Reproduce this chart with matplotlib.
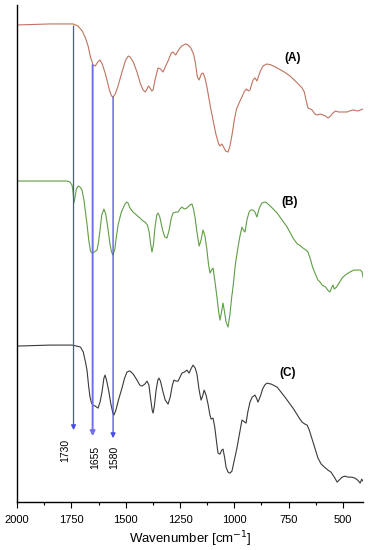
import numpy as np
import matplotlib.pyplot as plt

plt.rcParams['font.family'] = ['Liberation Sans', 'DejaVu Sans']

# spectrum (A)
wn_a = [2000, 1850, 1760, 1742, 1720, 1700, 1685, 1673, 1662, 1650, 1640, 1628, 1618, 1608,
        1596, 1586, 1575, 1565, 1558, 1548, 1535, 1517, 1500, 1488, 1480, 1465, 1448, 1432,
        1420, 1410, 1402, 1395, 1388, 1380, 1374, 1365, 1351, 1340, 1328, 1318, 1305, 1290,
        1282, 1270, 1262, 1250, 1241, 1225, 1213, 1200, 1188, 1180, 1170, 1162, 1152, 1144,
        1135, 1126, 1110, 1098, 1085, 1072, 1066, 1058, 1052, 1040, 1029, 1020, 1010, 1000,
        990, 974, 965, 955, 945, 935, 928, 914, 905, 896, 880, 868, 850, 830, 803, 770, 744,
        715, 688, 678, 668, 661, 650, 642, 630, 619, 605, 592, 580, 569, 557, 546, 535, 520,
        500, 481, 470, 454, 430, 408]
val_a = [477, 478, 478, 478, 476, 471, 464, 456, 445, 437, 436, 440, 442, 438,
         430, 422, 412, 406, 405, 408, 416, 430, 442, 446, 445, 440, 430, 418,
         412, 410, 413, 416, 414, 411, 412, 422, 434, 433, 430, 435, 441, 449,
         450, 447, 450, 454, 456, 458, 457, 454, 448, 440, 425, 422, 428, 429,
         424, 415, 395, 382, 368, 358, 356, 358, 356, 351, 350, 356, 368, 382,
         393, 401, 405, 410, 413, 411, 412, 422, 424, 421, 431, 436, 438, 437, 434, 430, 426,
         420, 414, 410, 400, 394, 393, 392, 388, 387, 388, 387, 386, 384, 386, 389, 391, 390,
         390, 390, 391, 392, 391, 393]

# spectrum (B)
wn_b = [2000, 1850, 1770, 1757, 1747, 1742, 1738, 1733, 1727, 1718, 1710, 1701, 1692, 1685,
        1678, 1670, 1662, 1655, 1645, 1632, 1625, 1618, 1610, 1600, 1592, 1586, 1581, 1572,
        1565, 1558, 1550, 1543, 1535, 1520, 1503, 1495, 1489, 1480, 1466, 1450, 1434, 1420,
        1411, 1400, 1392, 1385, 1379, 1372, 1365, 1357, 1351, 1343, 1330, 1320, 1310, 1300,
        1290, 1282, 1270, 1259, 1250, 1241, 1230, 1218, 1205, 1195, 1188, 1181, 1172, 1162,
        1153, 1144, 1135, 1126, 1119, 1112, 1105, 1098, 1090, 1080, 1072, 1066, 1059, 1052,
        1045, 1038, 1029, 1020, 1012, 1006, 995, 983, 975, 965, 958, 951, 942, 932, 925, 914,
        905, 896, 885, 873, 860, 850, 830, 803, 780, 757, 740, 730, 710, 700, 684, 670, 661,
        650, 640, 629, 615, 605, 596, 580, 570, 560, 553, 546, 540, 530, 515, 504, 490, 468,
        450, 431, 420, 412, 408]
val_b = [321, 321, 321, 320, 317, 310, 299, 305, 313, 316, 315, 312, 302, 290,
         278, 262, 251, 249, 250, 252, 260, 272, 287, 293, 288, 280, 272, 258,
         250, 247, 253, 265, 277, 290, 298, 300, 299, 294, 290, 287, 284, 281,
         280, 277, 270, 258, 250, 258, 275, 287, 289, 285, 272, 265, 264, 272,
         284, 289, 290, 290, 293, 295, 293, 294, 297, 298, 293, 285, 270, 256,
         262, 272, 266, 252, 238, 229, 232, 234, 222, 205, 190, 182, 190, 199,
         190, 180, 175, 188, 205, 215, 238, 255, 265, 275, 272, 270, 282, 290, 292, 292,
         290, 285, 294, 299, 300, 299, 295, 289, 282, 275, 268, 264, 258, 257, 254, 252, 250,
         243, 235, 229, 222, 220, 217, 215, 212, 210, 214, 217, 213, 215, 220, 224, 227, 230,
         232, 232, 232, 230, 225]

# spectrum (C)
wn_c = [2000, 1850, 1760, 1747, 1725, 1708, 1695, 1685, 1678, 1670, 1664, 1657, 1650, 1640,
        1627, 1618, 1609, 1600, 1595, 1588, 1577, 1568, 1560, 1554, 1545, 1532, 1517, 1505,
        1494, 1485, 1480, 1465, 1448, 1435, 1425, 1412, 1402, 1393, 1385, 1378, 1374, 1368,
        1360, 1352, 1347, 1340, 1328, 1318, 1305, 1295, 1285, 1278, 1268, 1259, 1248, 1241,
        1230, 1218, 1208, 1200, 1190, 1180, 1172, 1162, 1153, 1146, 1139, 1130, 1121, 1113,
        1107, 1098, 1090, 1080, 1075, 1066, 1058, 1052, 1045, 1038, 1029, 1020, 1011, 1000,
        988, 975, 965, 958, 946, 938, 928, 918, 905, 898, 891, 880, 870, 860, 850, 830, 803,
        785, 767, 750, 730, 710, 698, 688, 675, 665, 655, 642, 630, 615, 600, 585, 569, 555,
        546, 537, 527, 518, 504, 490, 477, 460, 445, 432, 421, 414, 408]
val_c = [156, 157, 157, 157, 156, 155, 150, 140, 132, 115, 105, 99, 97, 96,
         94, 100, 110, 124, 127, 122, 110, 98, 90, 87, 92, 103, 114, 124,
         130, 131, 131, 128, 122, 117, 116, 118, 121, 117, 103, 92, 89, 96,
         112, 122, 124, 121, 110, 102, 98, 105, 117, 122, 121, 121, 126, 129,
         130, 132, 129, 133, 137, 134, 128, 112, 102, 106, 112, 107, 98, 88,
         83, 84, 75, 57, 49, 48, 52, 53, 45, 35, 30, 29, 31, 42,
         54, 70, 82, 81, 79, 90, 100, 105, 107, 104, 100, 106, 113, 117, 119, 118, 115,
         110, 105, 100, 94, 87, 83, 80, 78, 77, 72, 63, 55, 44, 38, 35, 32, 30,
         27, 24, 20, 22, 25, 26, 25, 25, 24, 22, 19, 23, 21]

# marked bands: drawn position, label, arrow start/end, label position
band_pos = [1740, 1652, 1558]
band_lab = ['1730', '1655', '1580']
band_top = [476, 437, 405]
band_end = [72, 66, 64]
band_lw = [0.9, 1.4, 0.9]
band_col = ['#4a4ae6', '#6e6eee', '#4a4ae6']
lab_x = [1779, 1641, 1554]
lab_y = [52, 45, 45]

fig = plt.figure(figsize=(3.7, 5.5), dpi=100)
ax = fig.add_axes([0.046, 0.087, 0.935, 0.904])

ax.plot(wn_a, val_a, color='#bf7360', lw=0.8)
ax.plot(wn_b, val_b, color='#5f9e45', lw=0.8)
ax.plot(wn_c, val_c, color='#3a3a3a', lw=0.8)

for p, t, e, w, c, lx, ly, lab in zip(band_pos, band_top, band_end, band_lw, band_col,
                                      lab_x, lab_y, band_lab):
    ax.annotate('', xy=(p, e), xytext=(p, t),
                arrowprops=dict(arrowstyle='-|>', color=c, lw=w,
                                mutation_scale=7, shrinkA=0, shrinkB=0))
    ax.text(lx, ly, lab, rotation=90, ha='center', va='center', fontsize=7.5)

ax.text(734, 444, '(A)', fontsize=8.5, fontweight='bold', ha='center', va='center')
ax.text(744, 300, '(B)', fontsize=8.5, fontweight='bold', ha='center', va='center')
ax.text(753, 129, '(C)', fontsize=8.5, fontweight='bold', ha='center', va='center')

ax.set_xlim(2000, 408)
ax.set_ylim(0, 497)
ax.set_xticks([2000, 1750, 1500, 1250, 1000, 750, 500])
ax.set_xticks(np.arange(1875, 400, -250), minor=True)
ax.tick_params(axis='x', direction='out', length=4, width=0.8, labelsize=8, pad=5)
ax.tick_params(axis='x', which='minor', length=2.5, width=0.8)
ax.set_yticks([])
for s in ['top', 'right']:
    ax.spines[s].set_visible(False)
ax.spines['left'].set_linewidth(1.0)
ax.spines['bottom'].set_linewidth(1.0)
ax.set_xlabel('Wavenumber [cm$^{-1}$]', fontsize=9.5, labelpad=3.5)

fig.savefig('out.png', dpi=100)
